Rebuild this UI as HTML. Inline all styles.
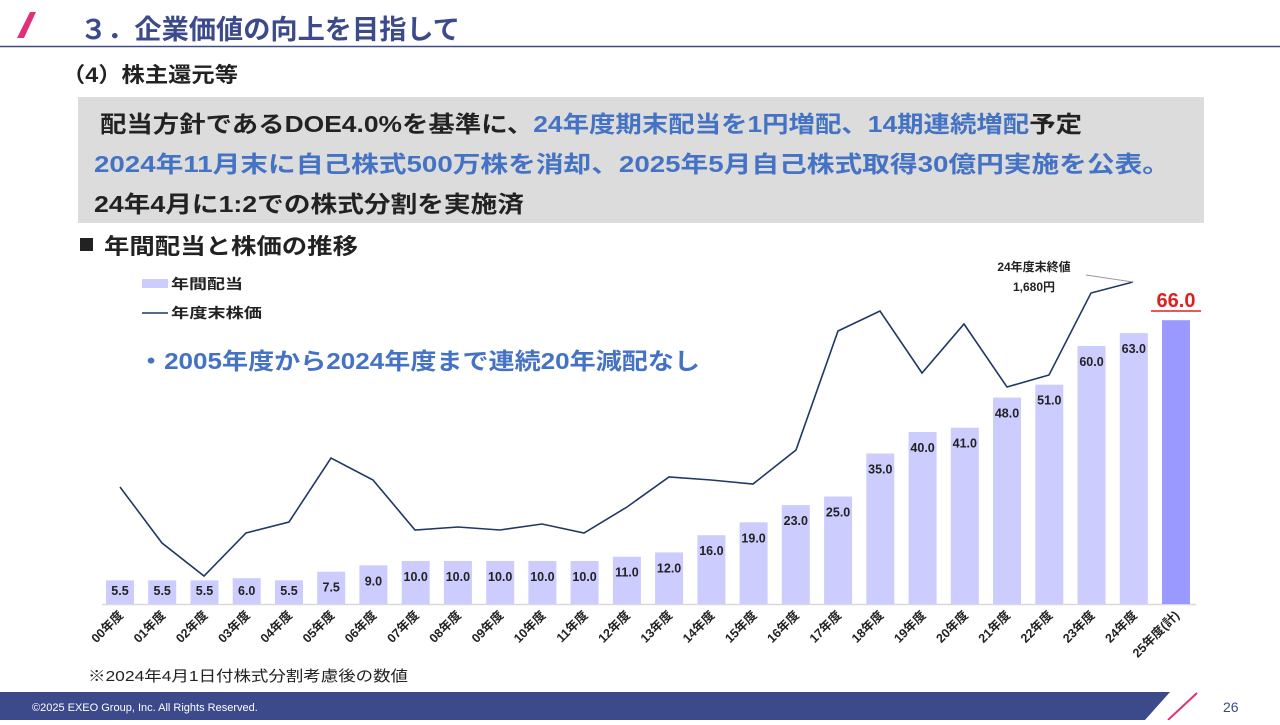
<!DOCTYPE html>
<html><head><meta charset="utf-8"><style>
body{margin:0;width:1280px;height:720px;overflow:hidden;background:#fff;}
svg text{font-family:"Liberation Sans","Noto Sans CJK JP",sans-serif;}
.v{font-size:12.5px;font-weight:bold;fill:#222;text-anchor:middle}
.a{font-size:12.5px;font-weight:bold;fill:#222;text-anchor:end}
</style></head><body>
<svg width="1280" height="720" viewBox="0 0 1280 720" xmlns="http://www.w3.org/2000/svg">
<polygon points="30,12 36,12 24,38 17,38" fill="#e0307a"/>
<text x="80" y="39" font-size="27" font-weight="bold" fill="#3c4a8c" textLength="380" lengthAdjust="spacingAndGlyphs">３．企業価値の向上を目指して</text>
<line x1="0" y1="46.5" x2="1280" y2="46.5" stroke="#3c4a8c" stroke-width="1.5"/>
<text x="62" y="82" font-size="21" font-weight="bold" fill="#222" textLength="176" lengthAdjust="spacingAndGlyphs">（4）株主還元等</text>
<rect x="78" y="97" width="1126" height="126" fill="#dcdcdc"/>
<text x="100" y="132" font-size="23" font-weight="bold" fill="#222" textLength="982" lengthAdjust="spacingAndGlyphs">配当方針であるDOE4.0%を基準に、<tspan fill="#4472c4">24年度期末配当を1円増配、14期連続増配</tspan>予定</text>
<text x="94" y="172" font-size="23" font-weight="bold" fill="#4472c4" textLength="1076" lengthAdjust="spacingAndGlyphs">2024年11月末に自己株式500万株を消却、2025年5月自己株式取得30億円実施を公表。</text>
<text x="94" y="212" font-size="23" font-weight="bold" fill="#222" textLength="430" lengthAdjust="spacingAndGlyphs">24年4月に1:2での株式分割を実施済</text>
<rect x="80" y="238" width="13" height="13" fill="#222"/>
<text x="104" y="254" font-size="22" font-weight="bold" fill="#222" textLength="254" lengthAdjust="spacingAndGlyphs">年間配当と株価の推移</text>
<rect x="142" y="279" width="26" height="9" fill="#ccccff"/>
<text x="171" y="289" font-size="14" font-weight="bold" fill="#222" textLength="72" lengthAdjust="spacingAndGlyphs">年間配当</text>
<line x1="142" y1="313" x2="168" y2="313" stroke="#1f3864" stroke-width="1.5"/>
<text x="171" y="318" font-size="14" font-weight="bold" fill="#222" textLength="91" lengthAdjust="spacingAndGlyphs">年度末株価</text>
<text x="138" y="369" font-size="23" font-weight="bold" fill="#4472c4" textLength="562" lengthAdjust="spacingAndGlyphs">・2005年度から2024年度まで連続20年減配なし</text>
<line x1="102" y1="604.5" x2="1196" y2="604.5" stroke="#d9d9d9" stroke-width="1.5"/>
<g fill="#ccccff">
<rect x="106" y="580.35" width="28" height="23.65"/>
<rect x="148.2" y="580.35" width="28" height="23.65"/>
<rect x="190.5" y="580.35" width="28" height="23.65"/>
<rect x="232.7" y="578.2" width="28" height="25.8"/>
<rect x="275" y="580.35" width="28" height="23.65"/>
<rect x="317.2" y="571.75" width="28" height="32.25"/>
<rect x="359.4" y="565.3" width="28" height="38.7"/>
<rect x="401.7" y="561" width="28" height="43"/>
<rect x="443.9" y="561" width="28" height="43"/>
<rect x="486.2" y="561" width="28" height="43"/>
<rect x="528.4" y="561" width="28" height="43"/>
<rect x="570.6" y="561" width="28" height="43"/>
<rect x="612.9" y="556.7" width="28" height="47.3"/>
<rect x="655.1" y="552.4" width="28" height="51.6"/>
<rect x="697.4" y="535.2" width="28" height="68.8"/>
<rect x="739.6" y="522.3" width="28" height="81.7"/>
<rect x="781.8" y="505.1" width="28" height="98.9"/>
<rect x="824.1" y="496.5" width="28" height="107.5"/>
<rect x="866.3" y="453.5" width="28" height="150.5"/>
<rect x="908.6" y="432" width="28" height="172"/>
<rect x="950.8" y="427.7" width="28" height="176.3"/>
<rect x="993" y="397.6" width="28" height="206.4"/>
<rect x="1035.3" y="384.7" width="28" height="219.3"/>
<rect x="1077.5" y="346" width="28" height="258"/>
<rect x="1119.8" y="333.1" width="28" height="270.9"/>
<rect x="1162" y="320.2" width="28" height="283.8" fill="#9999ff"/>
</g>
<g>
<text class="v" x="120" y="595">5.5</text>
<text class="v" x="162.2" y="595">5.5</text>
<text class="v" x="204.5" y="595">5.5</text>
<text class="v" x="246.7" y="595">6.0</text>
<text class="v" x="289" y="595">5.5</text>
<text class="v" x="331.2" y="591.7">7.5</text>
<text class="v" x="373.4" y="585.3">9.0</text>
<text class="v" x="415.7" y="581">10.0</text>
<text class="v" x="457.9" y="581">10.0</text>
<text class="v" x="500.2" y="581">10.0</text>
<text class="v" x="542.4" y="581">10.0</text>
<text class="v" x="584.6" y="581">10.0</text>
<text class="v" x="626.9" y="576.7">11.0</text>
<text class="v" x="669.1" y="572.4">12.0</text>
<text class="v" x="711.4" y="555.2">16.0</text>
<text class="v" x="753.6" y="542.3">19.0</text>
<text class="v" x="795.8" y="525.1">23.0</text>
<text class="v" x="838.1" y="516.5">25.0</text>
<text class="v" x="880.3" y="473.5">35.0</text>
<text class="v" x="922.6" y="452">40.0</text>
<text class="v" x="964.8" y="447.7">41.0</text>
<text class="v" x="1007" y="417.6">48.0</text>
<text class="v" x="1049.3" y="404.7">51.0</text>
<text class="v" x="1091.5" y="366">60.0</text>
<text class="v" x="1133.8" y="353.1">63.0</text>
</g>
<polyline fill="none" stroke="#1f3864" stroke-width="1.6" points="120,487 162,543 204,576 246,533 289,522 331,458 373,480 415,530 458,527 500,530 542,524 584,533 627,507 669,477 711,480 753,484 796,450 838,331 880,311 922,373 964,324 1007,387 1049,375 1091,293 1133,282"/>
<g>
<text class="a" transform="translate(124,616) rotate(-45)">00年度</text>
<text class="a" transform="translate(166.2,616) rotate(-45)">01年度</text>
<text class="a" transform="translate(208.5,616) rotate(-45)">02年度</text>
<text class="a" transform="translate(250.7,616) rotate(-45)">03年度</text>
<text class="a" transform="translate(293,616) rotate(-45)">04年度</text>
<text class="a" transform="translate(335.2,616) rotate(-45)">05年度</text>
<text class="a" transform="translate(377.4,616) rotate(-45)">06年度</text>
<text class="a" transform="translate(419.7,616) rotate(-45)">07年度</text>
<text class="a" transform="translate(461.9,616) rotate(-45)">08年度</text>
<text class="a" transform="translate(504.2,616) rotate(-45)">09年度</text>
<text class="a" transform="translate(546.4,616) rotate(-45)">10年度</text>
<text class="a" transform="translate(588.6,616) rotate(-45)">11年度</text>
<text class="a" transform="translate(630.9,616) rotate(-45)">12年度</text>
<text class="a" transform="translate(673.1,616) rotate(-45)">13年度</text>
<text class="a" transform="translate(715.4,616) rotate(-45)">14年度</text>
<text class="a" transform="translate(757.6,616) rotate(-45)">15年度</text>
<text class="a" transform="translate(799.8,616) rotate(-45)">16年度</text>
<text class="a" transform="translate(842.1,616) rotate(-45)">17年度</text>
<text class="a" transform="translate(884.3,616) rotate(-45)">18年度</text>
<text class="a" transform="translate(926.6,616) rotate(-45)">19年度</text>
<text class="a" transform="translate(968.8,616) rotate(-45)">20年度</text>
<text class="a" transform="translate(1011,616) rotate(-45)">21年度</text>
<text class="a" transform="translate(1053.3,616) rotate(-45)">22年度</text>
<text class="a" transform="translate(1095.5,616) rotate(-45)">23年度</text>
<text class="a" transform="translate(1137.8,616) rotate(-45)">24年度</text>
<text class="a" transform="translate(1180,616) rotate(-45)">25年度(計)</text>
</g>
<text x="1034" y="271" font-size="12" font-weight="bold" fill="#222" text-anchor="middle">24年度末終値</text>
<text x="1034" y="291" font-size="12" font-weight="bold" fill="#222" text-anchor="middle">1,680円</text>
<line x1="1086" y1="275" x2="1133" y2="282" stroke="#999" stroke-width="1"/>
<text x="1176" y="307" font-size="20" font-weight="bold" fill="#e02020" text-anchor="middle">66.0</text>
<line x1="1151" y1="311" x2="1201" y2="311" stroke="#e02020" stroke-width="1.5"/>
<text x="88" y="681" font-size="15" fill="#222" textLength="320" lengthAdjust="spacingAndGlyphs">※2024年4月1日付株式分割考慮後の数値</text>
<polygon points="0,692 1170,692 1145,720 0,720" fill="#3c4a8c"/>
<line x1="1197" y1="693" x2="1168" y2="720" stroke="#e0307a" stroke-width="2"/>
<text x="32" y="711" font-size="11" fill="#fff">©2025 EXEO Group, Inc. All Rights Reserved.</text>
<text x="1223" y="712" font-size="14" fill="#3c4a8c">26</text>
</svg>
</body></html>
